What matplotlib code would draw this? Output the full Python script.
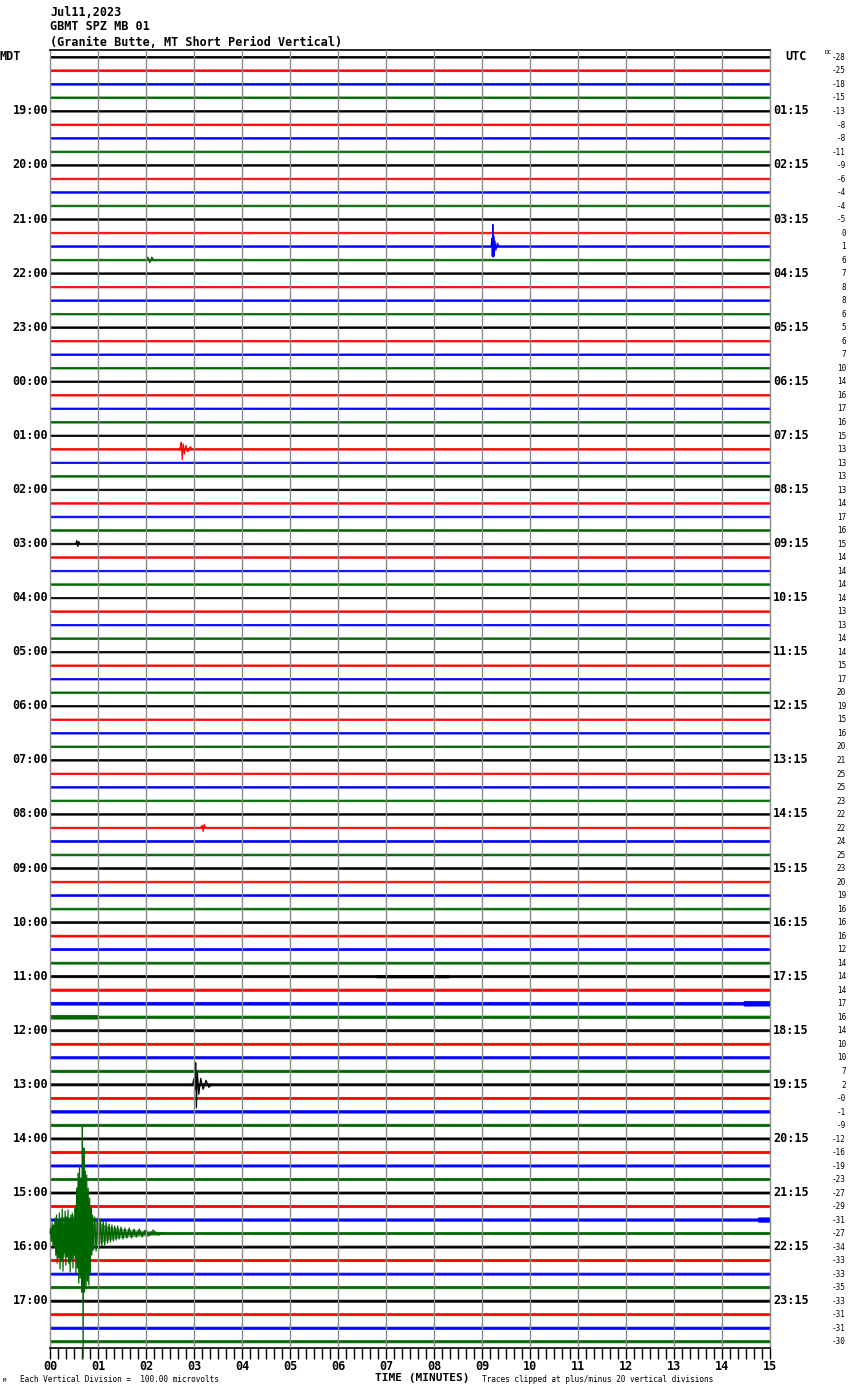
import matplotlib
matplotlib.use("Agg")
import matplotlib.pyplot as plt
import matplotlib.transforms as mtransforms
from matplotlib.ticker import MultipleLocator, FixedLocator

# ---------------- data ----------------
title_date = "Jul11,2023"
title_station = "GBMT SPZ MB 01"
title_site = "(Granite Butte, MT Short Period Vertical)"

left_hours = ["19:00", "20:00", "21:00", "22:00", "23:00", "00:00", "01:00", "02:00",
              "03:00", "04:00", "05:00", "06:00", "07:00", "08:00", "09:00", "10:00",
              "11:00", "12:00", "13:00", "14:00", "15:00", "16:00", "17:00"]
right_hours = ["01:15", "02:15", "03:15", "04:15", "05:15", "06:15", "07:15", "08:15",
               "09:15", "10:15", "11:15", "12:15", "13:15", "14:15", "15:15", "16:15",
               "17:15", "18:15", "19:15", "20:15", "21:15", "22:15", "23:15"]
minute_labels = ["00", "01", "02", "03", "04", "05", "06", "07",
                 "08", "09", "10", "11", "12", "13", "14", "15"]

dc_offsets = [-28, -25, -18, -15, -13, -8, -8, -11, -9, -6, -4, -4,
              -5, 0, 1, 6, 7, 8, 8, 6, 5, 6, 7, 10,
              14, 16, 17, 16, 15, 13, 13, 13, 13, 14, 17, 16,
              15, 14, 14, 14, 14, 13, 13, 14, 14, 15, 17, 20,
              19, 15, 16, 20, 21, 25, 25, 23, 22, 22, 24, 25,
              23, 20, 19, 16, 16, 16, 12, 14, 14, 14, 17, 16,
              14, 10, 10, 7, 2, -0, -1, -9, -12, -16, -19, -23,
              -27, -29, -31, -27, -34, -33, -33, -35, -33, -31, -31, -30]
dc_text = ["%d" % v for v in dc_offsets]
dc_text[77] = "-0"

# half-thickness of the background noise band of each trace (pixels)
noise_px = [0.85, 0.9, 0.85, 0.85,
            0.75, 0.8, 0.75, 0.8,
            0.75, 0.75, 0.75, 0.8,
            0.75, 0.75, 0.75, 0.8,
            0.75, 0.75, 0.75, 0.75,
            0.8, 0.75, 0.75, 0.75,
            0.75, 0.75, 0.75, 0.75,
            0.75, 0.75, 0.75, 0.75,
            0.75, 0.75, 0.8, 0.8,
            0.75, 0.75, 0.75, 0.75,
            0.7, 0.75, 0.75, 0.75,
            0.75, 0.75, 0.75, 0.75,
            0.7, 0.75, 0.75, 0.8,
            0.75, 0.75, 0.75, 0.8,
            0.75, 0.75, 0.85, 0.85,
            0.8, 0.8, 0.8, 0.85,
            0.85, 0.9, 0.95, 0.95,
            1.05, 1.1, 1.4, 1.15,
            1.0, 1.0, 1.1, 1.1,
            1.05, 1.0, 1.2, 1.15,
            1.0, 1.1, 1.05, 1.05,
            1.0, 1.05, 1.15, 1.05,
            1.0, 1.0, 1.0, 1.05,
            1.05, 1.0, 1.1, 1.1]

# segments of stronger noise: row, start minute, end minute, half-thickness (px)
burst_rows = [70, 71, 86, 68]
burst_start = [14.45, 0.0, 14.75, 6.8]
burst_end = [15.0, 1.0, 15.0, 8.3]
burst_px = [2.4, 1.9, 2.2, 1.2]

# event waveforms: peak times (minutes) and deflections (px, up positive)
ev_blue_row = 14
ev_blue_t = [9.19, 9.21, 9.215, 9.225, 9.235, 9.245, 9.255, 9.27, 9.29, 9.32, 9.35]
ev_blue_amp = [0, 8, -10, 21.7, -11, 10, -10, 5, -4, 3, 0]

ev_green_small_row = 15
ev_green_small_t = [2.00, 2.04, 2.08, 2.12, 2.16]
ev_green_small_amp = [0, 2.5, -3, 2.5, 0]

ev_red_row = 29
ev_red_t = [2.70, 2.72, 2.735, 2.755, 2.775, 2.80, 2.83, 2.87, 2.92, 2.96]
ev_red_amp = [0, 3, 6.6, -10.7, 5, -5, 3.5, -3, 2, 0]

ev_black_small_row = 36
ev_black_small_t = [0.54, 0.56, 0.58, 0.60, 0.62]
ev_black_small_amp = [0, 3, -3, 2, 0]

ev_red_small_row = 57
ev_red_small_t = [3.14, 3.17, 3.19, 3.21, 3.24]
ev_red_small_amp = [0, 2, -4, 3, 0]

ev_black_row = 76
ev_black_t = [2.97, 3.00, 3.02, 3.035, 3.05, 3.07, 3.10, 3.14, 3.19, 3.25, 3.31, 3.37]
ev_black_amp = [0, 6, -5, 21.6, -23.4, 12, -10, 6, -5, 4, -3, 0]

ev_quake_row = 87
ev_quake_t = [0.000, 0.015, 0.030, 0.045, 0.060, 0.075, 0.090, 0.105, 0.120, 0.135,
              0.150, 0.165, 0.180, 0.195, 0.210, 0.225, 0.240, 0.255, 0.270, 0.285,
              0.300, 0.315, 0.330, 0.345, 0.360, 0.375, 0.390, 0.405, 0.420, 0.435,
              0.450, 0.465, 0.480, 0.495, 0.510, 0.525, 0.540, 0.555, 0.570, 0.585,
              0.600, 0.615, 0.630, 0.645, 0.660, 0.675, 0.690, 0.705, 0.720, 0.735,
              0.750, 0.765, 0.780, 0.795, 0.810, 0.825, 0.840, 0.855, 0.870, 0.885,
              0.900, 0.93, 0.96, 0.99, 1.02, 1.05, 1.08, 1.11, 1.14, 1.17,
              1.20, 1.23, 1.26, 1.29, 1.32, 1.35, 1.38, 1.41, 1.44, 1.48,
              1.52, 1.56, 1.60, 1.65, 1.70, 1.75, 1.80, 1.86, 1.92, 1.98,
              2.05, 2.15, 2.25, 2.40]
ev_quake_amp = [0, 5, -8, 10, -12, 8, -14, 15, -22, 18,
                -30, 12, -25, 20, -36, 14, -28, 24, -38, 10,
                -20, 22, -32, 16, -24, 23, -30, 12, -39, 18,
                -26, 20, -35, 15, -22, 25, -40, 45, -35, 60,
                -50, 68, -45, 55, -59, 106, -125, 85, -59, 62,
                -55, 58, -48, 45, -52, 35, -40, 25, -22, 18,
                -17, 16, -18, 15, -16, 14, -13, 12, -12, 11,
                -10, 9, -9, 8, -8, 7, -7, 7, -6, 6,
                -6, 5, -5, 5, -5, 4, -4, 4, -4, 3,
                -3, 3, -2, 0]
# dense core of the quake record: envelope (px above / below the trace)
quake_env_t = [0.0, 0.05, 0.1, 0.2, 0.3, 0.45, 0.55, 0.65, 0.75, 0.85, 0.95,
               1.05, 1.2, 1.4, 1.6, 1.9, 2.2, 2.4]
quake_env_up = [3, 6, 12, 16, 17, 16, 25, 40, 35, 20, 12, 10, 7, 5, 4, 3, 2, 1]
quake_env_down = [3, 8, 15, 22, 24, 22, 28, 40, 35, 20, 12, 10, 7, 5, 4, 3, 2, 1]

# ---------------- drawing ----------------
W, H = 850, 1390
fig = plt.figure(figsize=(W / 100, H / 100), dpi=100)
ax_left, ax_right, ax_top, ax_bottom = 50, 770, 50, 1348
ax = fig.add_axes([ax_left / W, (H - ax_bottom) / H,
                   (ax_right - ax_left) / W, (ax_bottom - ax_top) / H])

n_rows = len(dc_offsets)
row_px = (ax_bottom - ax_top) / n_rows
colors = ["#000000", "#ff0000", "#0000ff", "#006600"]
mono = "DejaVu Sans Mono"

for r in range(n_rows):
    a = noise_px[r] / row_px
    c = colors[r % 4]
    ax.fill_between([0, 15], [r - a, r - a], [r + a, r + a], facecolor=c,
                    edgecolor=c, lw=0.55, zorder=2, snap=False)

for r, t0, t1, p in zip(burst_rows, burst_start, burst_end, burst_px):
    a = p / row_px
    c = colors[r % 4]
    ax.fill_between([t0, t1], [r - a, r - a], [r + a, r + a], facecolor=c,
                    edgecolor=c, lw=0.5, zorder=2, snap=False)

events = [(ev_blue_row, ev_blue_t, ev_blue_amp),
          (ev_green_small_row, ev_green_small_t, ev_green_small_amp),
          (ev_red_row, ev_red_t, ev_red_amp),
          (ev_black_small_row, ev_black_small_t, ev_black_small_amp),
          (ev_red_small_row, ev_red_small_t, ev_red_small_amp),
          (ev_black_row, ev_black_t, ev_black_amp),
          (ev_quake_row, ev_quake_t, ev_quake_amp)]
for r, t, amp in events:
    y = [r - v / row_px for v in amp]
    ax.plot(t, y, color=colors[r % 4], lw=0.9, zorder=3, clip_on=False)

qr = ev_quake_row
ax.fill_between(quake_env_t,
                [qr - v / row_px for v in quake_env_up],
                [qr + v / row_px for v in quake_env_down],
                color=colors[qr % 4], alpha=0.55, lw=0, zorder=3)

for m in range(1, 15):
    ax.axvline(m, color="#8c8c8c", lw=1.0, zorder=5)

ax.set_xlim(0, 15)
ax.set_ylim(n_rows - 0.5, -0.5)
ax.set_yticks([])
ax.xaxis.set_major_locator(FixedLocator(range(16)))
ax.set_xticklabels(minute_labels, family=mono, fontsize=8.5, fontweight="bold")
ax.xaxis.set_minor_locator(MultipleLocator(1 / 6))
ax.tick_params(axis="x", which="both", direction="out", length=8, width=1,
               color="black", pad=1)
for side in ["left", "right"]:
    ax.spines[side].set_color("#8c8c8c")
    ax.spines[side].set_linewidth(1)
ax.spines["top"].set_color("black")
ax.spines["bottom"].set_color("black")
ax.spines["top"].set_linewidth(1.2)
ax.spines["bottom"].set_linewidth(1.2)
ax.set_zorder(2)

blend = mtransforms.blended_transform_factory(ax.transAxes, ax.transData)
span = ax_right - ax_left


def xfrac(px):
    return (px - ax_left) / span


for i, lab in enumerate(left_hours):
    r = 4 * (i + 1)
    ax.text(xfrac(48), r, lab, transform=blend, ha="right", va="center",
            family=mono, fontsize=8.5, fontweight="bold")
for i, lab in enumerate(right_hours):
    r = 4 * (i + 1)
    ax.text(xfrac(773), r, lab, transform=blend, ha="left", va="center",
            family=mono, fontsize=8.5, fontweight="bold")
ax.text(xfrac(0), 0, "MDT", transform=blend, ha="left", va="center",
        family=mono, fontsize=8.5, fontweight="bold")
ax.text(xfrac(785), 0, "UTC", transform=blend, ha="left", va="center",
        family=mono, fontsize=8.5, fontweight="bold")
for r, s in enumerate(dc_text):
    ax.text(xfrac(846), r + 0.05, s, transform=blend, ha="right", va="center",
            family=mono, fontsize=5.5)
ax.text(xfrac(825), -0.3, "DC", transform=blend, ha="left", va="center",
        family=mono, fontsize=4.5)


def ftext(x, y, s, **kw):
    fig.text(x / W, 1 - y / H, s, **kw)


ftext(50, 12, title_date, family=mono, fontsize=8.5, fontweight="bold", va="center")
ftext(50, 27, title_station, family=mono, fontsize=8.5, fontweight="bold", va="center")
ftext(50, 42, title_site, family=mono, fontsize=8.5, fontweight="bold", va="center")
ftext(20, 1379, "Each Vertical Division =  100.00 microvolts", family=mono,
      fontsize=5.6, va="center")
ftext(422, 1378, "TIME (MINUTES)", family=mono, fontsize=8, fontweight="bold",
      va="center", ha="center")
ftext(482, 1379, "Traces clipped at plus/minus 20 vertical divisions", family=mono,
      fontsize=5.6, va="center")
ftext(3, 1380, "M", family=mono, fontsize=4, va="center")

fig.savefig("out.png", dpi=100)
